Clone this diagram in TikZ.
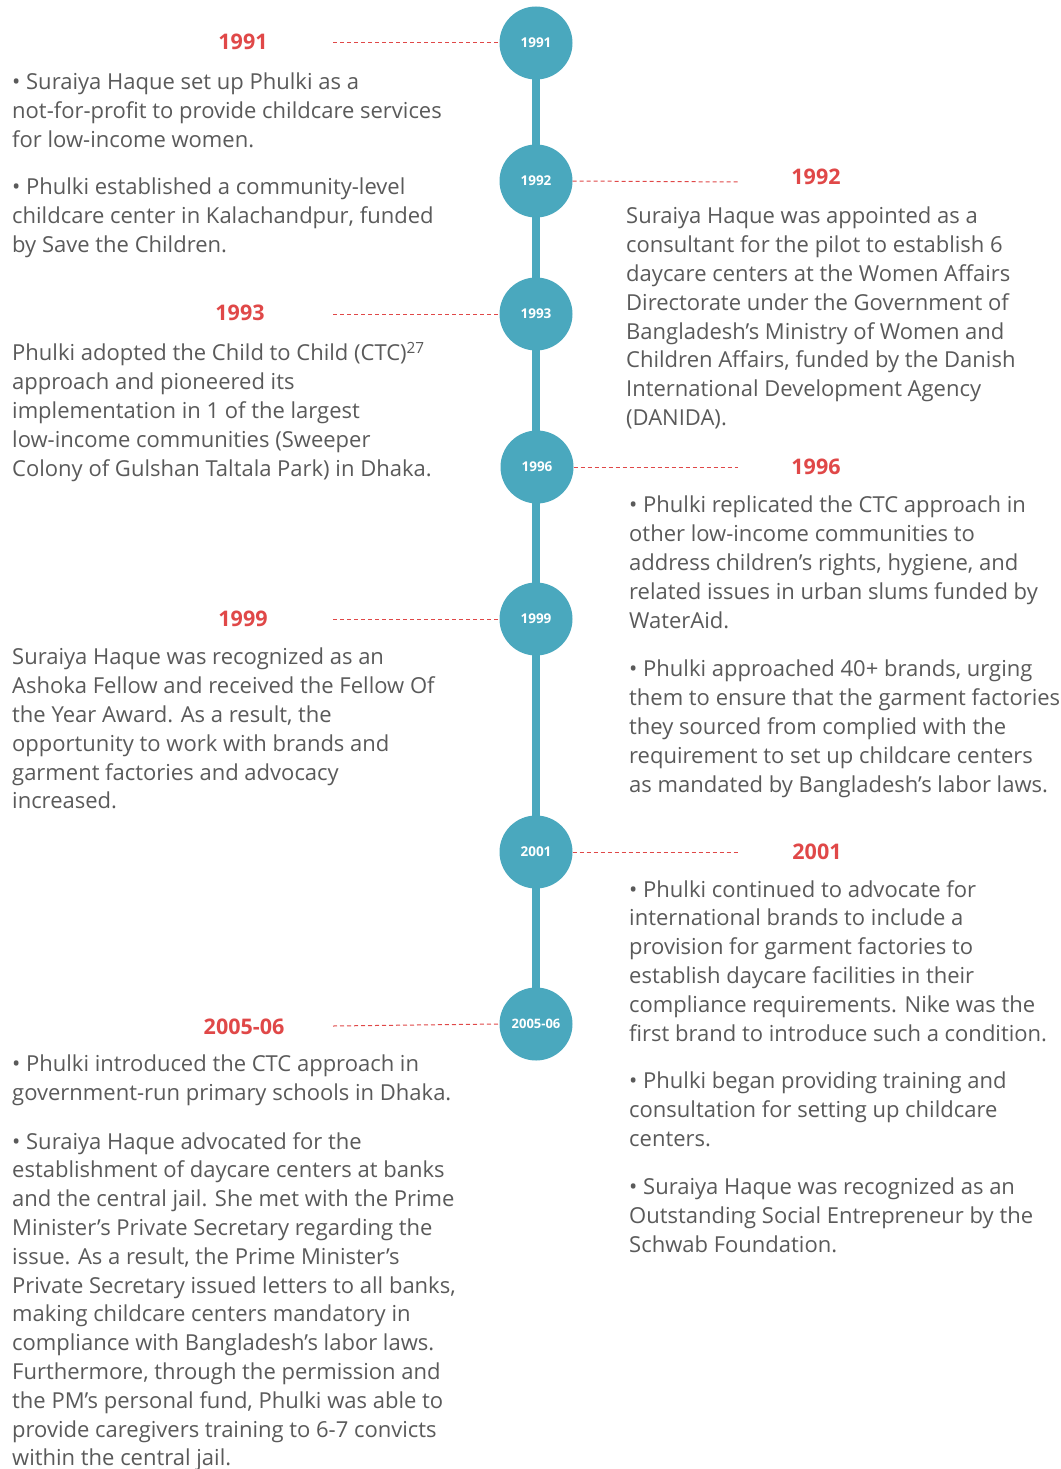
\documentclass[tikz,border=0pt]{standalone}
\usepackage{fontspec}
\setmainfont{Open Sans}
\definecolor{teal}{HTML}{4AA8BE}
\definecolor{yred}{HTML}{E04848}
\definecolor{txt}{HTML}{5A5A5A}
\begin{document}
\begin{tikzpicture}[x=1pt,y=-1pt,
  dot/.style={circle,fill=teal,minimum size=73pt,inner sep=0pt,text=white,font=\bfseries\fontsize{13.5}{14}\selectfont},
  year/.style={text=yred,font=\bfseries\fontsize{21.5}{24}\selectfont,inner sep=0pt},
  para/.style={anchor=north west,align=left,inner sep=0pt,text=txt,font=\fontsize{22}{28.8}\selectfont,execute at begin node=\strut},
  dashline/.style={draw=yred,line width=1pt,dash pattern=on 4pt off 3pt}]
\useasboundingbox (0,0) rectangle (1060,1469);
\fill[white] (0,0) rectangle (1060,1469);
% timeline
\coordinate (top) at (536,43);
\coordinate (bot) at (536,1024);
\draw[teal,line width=8pt] (top) -- (bot);
\node[dot] (c1) at (536,43) {1991};
\node[dot] (c2) at (536,181) {1992};
\node[dot] (c3) at (536,314) {1993};
\node[dot] (c4) at (537,467) {1996};
\node[dot] (c5) at (536,619) {1999};
\node[dot] (c6) at (536,852) {2001};
\node[dot,font=\bfseries\fontsize{13}{14}\selectfont] (c7) at (536,1024) {2005-06};
% year labels
\node[year] (y1) at (243,42) {1991};
\node[year] (y2) at (816,177) {1992};
\node[year] (y3) at (240,313) {1993};
\node[year] (y4) at (816,467) {1996};
\node[year] (y5) at (243,619) {1999};
\node[year] (y6) at (817,852) {2001};
\node[year] (y7) at (244,1027) {2005-06};
% dashed connectors
\coordinate (d1) at (333,43);
\coordinate (d2) at (738,182);
\coordinate (d3) at (333,314);
\coordinate (d4) at (738,467);
\coordinate (d5) at (333,619);
\coordinate (d6) at (738,852);
\coordinate (d7) at (333,1026);
\draw[dashline] (d1) -- (c1.west);
\draw[dashline] (c2.east) -- (d2);
\draw[dashline] (d3) -- (c3.west);
\draw[dashline] (c4.east) -- (d4);
\draw[dashline] (d5) -- (c5.west);
\draw[dashline] (c6.east) -- (d6);
\draw[dashline] (d7) -- (c7.west);
% left paragraphs
\node[para] (p1) at (12,73) {• Suraiya Haque set up Phulki as a\\not-for-profit to provide childcare services\\for low-income women.};
\node[para] (p2) at (12,178) {• Phulki established a community-level\\childcare center in Kalachandpur, funded\\by Save the Children.};
\node[para] (p3) at (12,342) {Phulki adopted the Child to Child (CTC)\textsuperscript{27}\\approach and pioneered its\\implementation in 1 of the largest\\low-income communities (Sweeper\\Colony of Gulshan Taltala Park) in Dhaka.};
\node[para] (p4) at (12,648) {Suraiya Haque was recognized as an\\Ashoka Fellow and received the Fellow Of\\the Year Award. As a result, the\\opportunity to work with brands and\\garment factories and advocacy\\increased.};
\node[para] (p5) at (12,1055) {• Phulki introduced the CTC approach in\\government-run primary schools in Dhaka.};
\node[para] (p6) at (12,1132) {• Suraiya Haque advocated for the\\establishment of daycare centers at banks\\and the central jail. She met with the Prime\\Minister’s Private Secretary regarding the\\issue. As a result, the Prime Minister’s\\Private Secretary issued letters to all banks,\\making childcare centers mandatory in\\compliance with Bangladesh’s labor laws.\\Furthermore, through the permission and\\the PM’s personal fund, Phulki was able to\\provide caregivers training to 6-7 convicts\\within the central jail.};
% right paragraphs
\node[para] (r1) at (626,207) {Suraiya Haque was appointed as a\\consultant for the pilot to establish 6\\daycare centers at the Women Affairs\\Directorate under the Government of\\Bangladesh’s Ministry of Women and\\Children Affairs, funded by the Danish\\International Development Agency\\(DANIDA).};
\node[para] (r2) at (629,496) {• Phulki replicated the CTC approach in\\other low-income communities to\\address children’s rights, hygiene, and\\related issues in urban slums funded by\\WaterAid.};
\node[para] (r3) at (629,660) {• Phulki approached 40+ brands, urging\\them to ensure that the garment factories\\they sourced from complied with the\\requirement to set up childcare centers\\as mandated by Bangladesh’s labor laws.};
\node[para] (r4) at (629,880) {• Phulki continued to advocate for\\international brands to include a\\provision for garment factories to\\establish daycare facilities in their\\compliance requirements. Nike was the\\first brand to introduce such a condition.};
\node[para] (r5) at (629,1072) {• Phulki began providing training and\\consultation for setting up childcare\\centers.};
\node[para] (r6) at (629,1178) {• Suraiya Haque was recognized as an\\Outstanding Social Entrepreneur by the\\Schwab Foundation.};
\end{tikzpicture}
\end{document}
